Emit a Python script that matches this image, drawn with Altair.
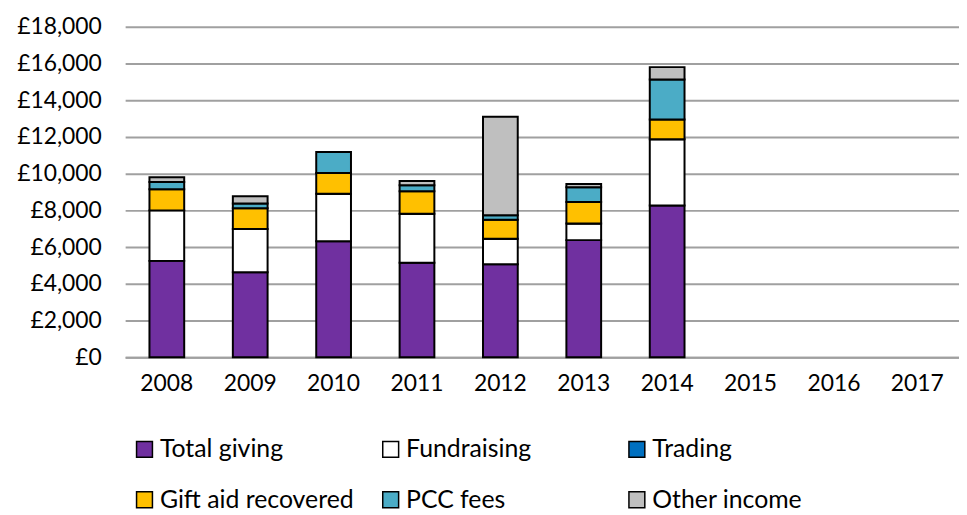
import altair as alt
import pandas as pd

years = ["2008", "2009", "2010", "2011", "2012", "2013", "2014", "2015", "2016", "2017"]
data_years = ["2008", "2009", "2010", "2011", "2012", "2013", "2014"]
series = ["Total giving", "Fundraising", "Trading", "Gift aid recovered", "PCC fees", "Other income"]
colors = ["#7030A0", "#FFFFFF", "#0070C0", "#FFC000", "#4BACC6", "#BFBFBF"]

total_giving = [5250, 4630, 6320, 5150, 5060, 6380, 8270]
fundraising = [2750, 2360, 2580, 2670, 1390, 900, 3600]
trading = [0, 0, 0, 0, 0, 0, 0]
gift_aid = [1150, 1120, 1130, 1220, 1040, 1170, 1080]
pcc_fees = [400, 270, 1150, 330, 240, 810, 2170]
other_income = [250, 390, 0, 230, 5370, 180, 680]

values = [total_giving, fundraising, trading, gift_aid, pcc_fees, other_income]
rows = []
for si, (name, vals) in enumerate(zip(series, values)):
    for y, v in zip(data_years, vals):
        rows.append({"Year": y, "Series": name, "Value": v, "order": si})
df = pd.DataFrame(rows)

font = "Lato"

chart = alt.Chart(df).mark_bar(
    stroke="black", strokeWidth=2, size=35
).encode(
    x=alt.X("Year:N", scale=alt.Scale(domain=years, paddingInner=0.58, paddingOuter=0.29),
            axis=alt.Axis(title=None, labelAngle=0, labelPadding=15, ticks=False,
                          domainColor="#a0a0a0", domainWidth=2, labelFontSize=23,
                          labelFont=font, labelColor="black")),
    y=alt.Y("Value:Q", stack="zero", scale=alt.Scale(domain=[0, 18000], nice=False),
            axis=alt.Axis(title=None, values=list(range(0, 18001, 2000)),
                          labelExpr="'£' + format(datum.value, ',')",
                          labelPadding=24, ticks=False, domain=False,
                          gridColor="#a0a0a0", gridWidth=2, labelFontSize=23,
                          labelFont=font, labelColor="black")),
    color=alt.Color("Series:N", scale=alt.Scale(domain=series, range=colors),
                    legend=alt.Legend(title=None, orient="none", legendX=7, legendY=413,
                                      direction="horizontal",
                                      columns=3, gridAlign="all", columnPadding=24,
                                      rowPadding=25, symbolType="square", symbolSize=256,
                                      symbolStrokeColor="black", symbolStrokeWidth=1.5,
                                      labelFontSize=25, labelFont=font, labelColor="black",
                                      labelLimit=0, labelOffset=3, padding=0)),
    order=alt.Order("order:Q", sort="ascending"),
).properties(
    width=840, height=333,
    autosize=alt.AutoSizeParams(type="none"),
    padding={"left": 118, "top": 17, "right": 0, "bottom": 156},
).configure_view(stroke=None)

chart.save("out.html", embed_options={"renderer": "svg", "actions": False})
